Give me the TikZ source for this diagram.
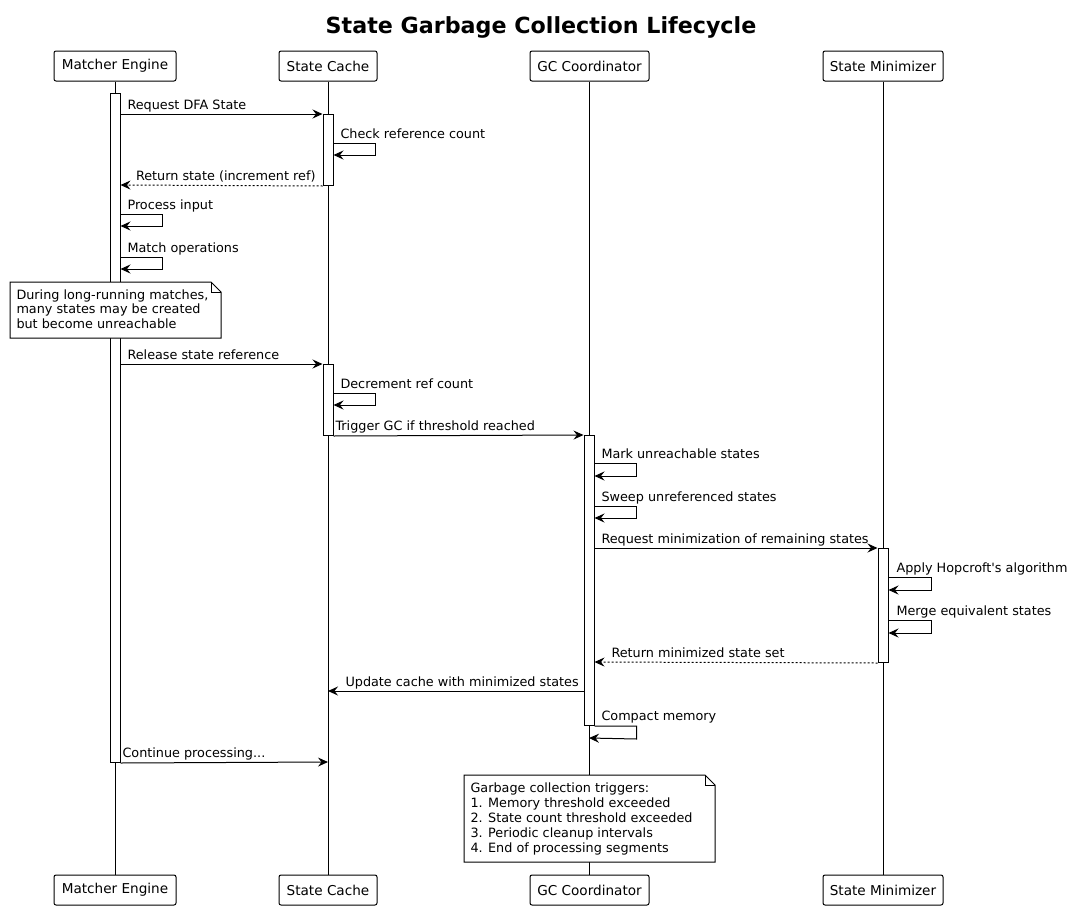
\documentclass[tikz,border=0pt]{standalone}
\usepackage{fontspec}
\setmainfont{DejaVu Sans}
\usetikzlibrary{arrows.meta,calc}
\begin{document}
\begin{tikzpicture}[x=1pt,y=-1pt,line width=1pt,
  part/.style={draw,rounded corners=2pt,minimum height=30pt,inner sep=0pt,fill=white,font=\fontsize{13.6}{16}\selectfont},
  act/.style={draw,fill=white,minimum width=10pt,inner sep=0pt,anchor=north},
  msg/.style={-{Stealth[length=10pt,width=9pt,inset=3.5pt]}},
  ret/.style={msg,dash pattern=on 2pt off 2pt},
  lbl/.style={font=\fontsize{12.8}{15}\selectfont,anchor=base west,inner sep=0pt},
  notebox/.style={inner sep=0pt,anchor=north west},
  notetext/.style={font=\fontsize{12.8}{14.5}\selectfont,align=left,anchor=north west,inner sep=0pt},
  ttl/.style={font=\fontsize{22.2}{26}\selectfont\bfseries}]
\useasboundingbox[fill=white] (0,0) rectangle (1071,910);

\node[ttl] (title) at (541,27) {State Garbage Collection Lifecycle};

% participants
\node[part,minimum width=122pt] (pME) at (115,66) {Matcher Engine};
\node[part,minimum width=98pt] (pSC) at (328,66) {State Cache};
\node[part,minimum width=119pt] (pGC) at (589.5,66) {GC Coordinator};
\node[part,minimum width=120pt] (pSM) at (883,66) {State Minimizer};
\node[part,minimum width=122pt] (bME) at (115,890) {Matcher Engine};
\node[part,minimum width=98pt] (bSC) at (328,890) {State Cache};
\node[part,minimum width=119pt] (bGC) at (589.5,890) {GC Coordinator};
\node[part,minimum width=120pt] (bSM) at (883,890) {State Minimizer};

% lifelines
\draw (pME.south) -- (bME.north);
\draw (pSC.south) -- (bSC.north);
\draw (pGC.south -| 589,0) -- (bGC.north -| 589,0);
\draw (pSM.south) -- (bSM.north);

% activations
\node[act,minimum height=669pt] (aME) at (115,93) {};
\node[act,minimum height=71pt] (aSC1) at (328,114) {};
\node[act,minimum height=71pt] (aSC2) at (328,364) {};
\node[act,minimum height=290pt] (aGC) at (589,435) {};
\node[act,minimum height=114pt] (aSM) at (883,548) {};

% messages
\draw[msg] (aME.east |- 0,114) -- (aSC1.north west);
\node[lbl] (l1) at (127,109) {Request DFA State};

\draw[msg] (aSC1.east |- 0,143) -- ++(42,0) -- ++(0,12) -- (aSC1.east |- 0,155);
\node[lbl] (l2) at (340,138) {Check reference count};

\draw[ret] (aSC1.south west) -- (aME.east |- 0,185);
\node[lbl,anchor=base east] (l3) at (316,180) {Return state (increment ref)};

\draw[msg] (aME.east |- 0,214) -- ++(42,0) -- ++(0,12) -- (aME.east |- 0,226);
\node[lbl] (l4) at (127,209) {Process input};

\draw[msg] (aME.east |- 0,257) -- ++(42,0) -- ++(0,12) -- (aME.east |- 0,269);
\node[lbl] (l5) at (127,252) {Match operations};

% note 1
\node[notebox,minimum width=210pt,minimum height=55pt] (n1) at (10,282) {};
\draw[fill=white] (n1.north west) -- ($(n1.north east)+(-10,0)$) -- ($(n1.north east)+(0,10)$) -- (n1.south east) -- (n1.south west) -- cycle;
\draw ($(n1.north east)+(-10,0)$) -- ($(n1.north east)+(-10,10)$) -- ($(n1.north east)+(0,10)$);
\node[notetext] (t1) at ($(n1.north west)+(6,7)$) {During long-running matches,\\many states may be created\\but become unreachable};

\draw[msg] (aME.east |- 0,364) -- (aSC2.north west);
\node[lbl] (l7) at (127,359) {Release state reference};

\draw[msg] (aSC2.east |- 0,393) -- ++(42,0) -- ++(0,12) -- (aSC2.east |- 0,405);
\node[lbl] (l8) at (340,388) {Decrement ref count};

\draw[msg] (aSC2.south east) -- (aGC.north west);
\node[lbl] (l9) at (335,430) {Trigger GC if threshold reached};

\draw[msg] (aGC.east |- 0,463) -- ++(42,0) -- ++(0,13) -- (aGC.east |- 0,476);
\node[lbl] (l10) at (601,458) {Mark unreachable states};

\draw[msg] (aGC.east |- 0,506) -- ++(42,0) -- ++(0,12) -- (aGC.east |- 0,518);
\node[lbl] (l11) at (601,501) {Sweep unreferenced states};

\draw[msg] (aGC.east |- 0,548) -- (aSM.north west);
\node[lbl] (l12) at (601,543) {Request minimization of remaining states};

\draw[msg] (aSM.east |- 0,577) -- ++(43,0) -- ++(0,13) -- (aSM.east |- 0,590);
\node[lbl] (l13) at (896,572) {Apply Hopcroft\textquotesingle s algorithm};

\draw[msg] (aSM.east |- 0,620) -- ++(43,0) -- ++(0,13) -- (aSM.east |- 0,633);
\node[lbl] (l14) at (896,615) {Merge equivalent states};

\draw[ret] (aSM.south west) -- (aGC.east |- 0,662);
\node[lbl] (l15) at (611,657) {Return minimized state set};

\draw[msg] (aGC.west |- 0,691) -- (pSC.south |- 0,691);
\node[lbl] (l16) at (345,686) {Update cache with minimized states};

\draw[msg] (aGC.south east) -- ++(42,0) -- ++(0,13) -- (589,738);
\node[lbl] (l17) at (601,720) {Compact memory};

\draw[msg] (aME.south east) -- (pSC.south |- 0,762);
\node[lbl] (l18) at (122,757) {Continue processing...};

% note 2
\node[notebox,minimum width=250pt,minimum height=86pt] (n2) at (464,775) {};
\draw[fill=white] (n2.north west) -- ($(n2.north east)+(-10,0)$) -- ($(n2.north east)+(0,10)$) -- (n2.south east) -- (n2.south west) -- cycle;
\draw ($(n2.north east)+(-10,0)$) -- ($(n2.north east)+(-10,10)$) -- ($(n2.north east)+(0,10)$);
\node[notetext,font=\fontsize{12.8}{15}\selectfont] (t2) at ($(n2.north west)+(6,7)$) {Garbage collection triggers:\\1. Memory threshold exceeded\\2. State count threshold exceeded\\3. Periodic cleanup intervals\\4. End of processing segments};
\end{tikzpicture}
\end{document}
